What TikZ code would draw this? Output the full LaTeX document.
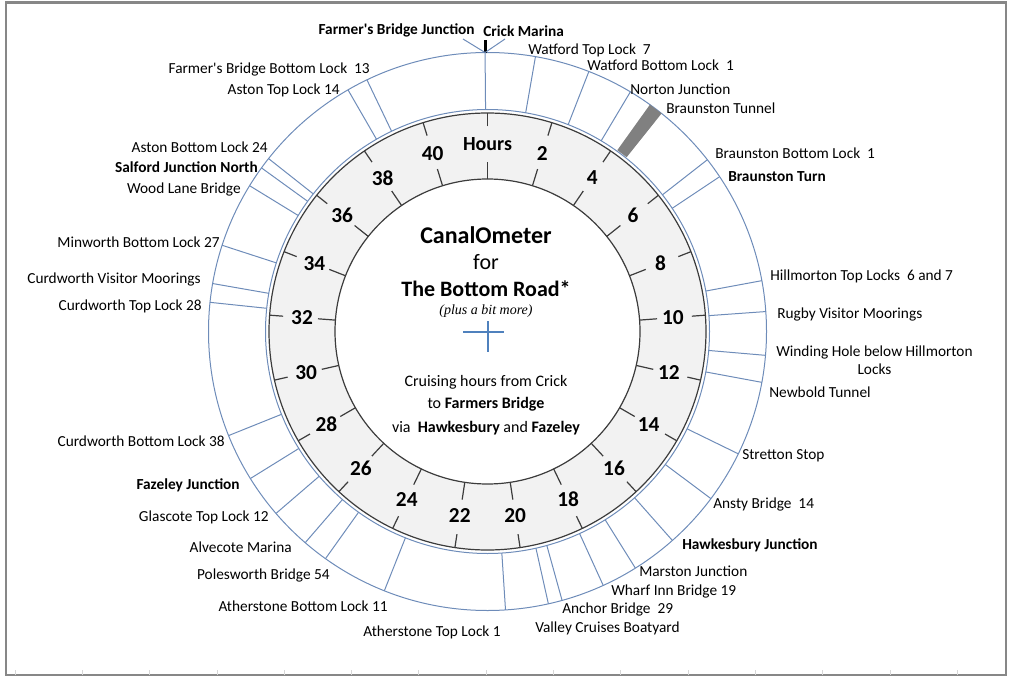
\documentclass[tikz,border=0pt]{standalone}
\usepackage{fontspec}
\setmainfont{Carlito}
\newfontfamily\notefont{Liberation Serif}
\definecolor{ringblue}{RGB}{110,140,185}
\definecolor{bandfill}{RGB}{242,242,242}
\definecolor{banddark}{RGB}{60,60,60}
\definecolor{framegray}{RGB}{135,135,135}
\definecolor{tickgray}{RGB}{215,215,215}
\definecolor{tunnelgray}{RGB}{128,128,128}
\definecolor{crossblue}{RGB}{79,129,189}
\tikzset{
  ringline/.style={draw=ringblue, line width=0.75pt},
  bandline/.style={draw=banddark, line width=0.9pt},
  stoplbl/.style={inner sep=0pt, font=\fontsize{11.5}{13.5}\selectfont},
  junclbl/.style={inner sep=0pt, font=\fontsize{11.5}{13.5}\selectfont\bfseries},
  hourlbl/.style={inner sep=0pt, font=\fontsize{16}{18}\selectfont\bfseries},
  middle/.style={inner sep=0pt, font=\fontsize{12}{14}\selectfont},
}
\begin{document}
\begin{tikzpicture}[x=0.75pt, y=0.75pt]
    \useasboundingbox (0,0) rectangle (1024,687);
    \draw[framegray, line width=1.6pt] (6,12) rectangle (1006,684.5);
    \foreach \i in {0,...,14}
        \draw[tickgray, line width=0.6pt] (15+\i*67.3,12) -- ++(0,5);

    \begin{scope}[shift={(487.5,355.5)}]
        \draw[ringline] (0,0) circle (279);
        \draw[ringline] (0,0) circle (222);
        \fill[bandfill, even odd rule] (0,0) circle (218.5) (0,0) circle (152.5);
        \draw[bandline] (0,0) circle (218.5);
        \draw[bandline] (0,0) circle (152.5);
        \foreach \h in {0,2,...,40} {
            \draw[bandline] (90-\h*360/42:152.5) -- (90-\h*360/42:170);
            \draw[bandline] (90-\h*360/42:205) -- (90-\h*360/42:218.5);
        }
        \node[hourlbl, font=\fontsize{15}{17}\selectfont\bfseries] (h0) at (90:187) {Hours};
        \foreach \h in {2,4,...,40}
            \node[hourlbl] (h\h) at (90-\h*360/42:186) {\h};
        % stops on the outer ring
        \foreach \a in {359.5,9.9,21.3,30.8,52,56.3,79.5,85.9,94.9,100.5,116,126.8,138.5,148,155.5,164.5,167.4,176.3,
                        201.7,215.5,220.8,229.3,238.2,248.1,276,279.9,288,301.5,305.9,308.3,330,334.4}
            \draw[ringline] (90-\a:222) -- (90-\a:279);
        \fill[tunnelgray] (90-35.6:223) -- (90-35.6:279) -- (90-38.6:279) -- (90-38.6:223) -- cycle;
        \coordinate (crick) at (90-359.5:279);
    \end{scope}

    \draw[black, line width=2.3pt] (crick) -- ++(0,12.5);
    \coordinate (vleft) at (463,648);
    \coordinate (vright) at (505,648);
    \draw[ringline] (vleft) -- (crick) -- (vright);

    \node[junclbl, anchor=east] (farmersjn) at (475,657) {Farmer\textquotesingle s Bridge Junction};
    \node[junclbl, anchor=west] (crickmarina) at (483,656) {Crick Marina};
    \node[stoplbl, anchor=west] (watfordtop) at (528,637) {Watford Top Lock~ 7};
    \node[stoplbl, anchor=west] (watfordbot) at (587,622) {Watford Bottom Lock~ 1};
    \node[stoplbl, anchor=west] (norton) at (630,598) {Norton Junction};
    \node[stoplbl, anchor=west] (tunnel) at (666,579) {Braunston Tunnel};
    \node[stoplbl, anchor=west] (braunbot) at (715,534) {Braunston Bottom Lock~ 1};
    \node[junclbl, anchor=west] (braunturn) at (728,510) {Braunston Turn};
    \node[stoplbl, anchor=west] (hillmorton) at (770,411) {Hillmorton Top Locks~ 6 and 7};
    \node[stoplbl, anchor=west] (rugby) at (777,373) {Rugby Visitor Moorings};
    \node[stoplbl, anchor=west, align=center] (winding) at (776,327) {Winding Hole below Hillmorton\\Locks};
    \node[stoplbl, anchor=west] (newbold) at (769,295) {Newbold Tunnel};
    \node[stoplbl, anchor=west] (stretton) at (742,231) {Stretton Stop};
    \node[stoplbl, anchor=west] (ansty) at (713,183) {Ansty Bridge~ 14};
    \node[junclbl, anchor=west] (hawkesbury) at (682,142) {Hawkesbury Junction};
    \node[stoplbl, anchor=west] (marston) at (639,116) {Marston Junction};
    \node[stoplbl, anchor=west] (wharfinn) at (611,96) {Wharf Inn Bridge 19};
    \node[stoplbl, anchor=west] (anchorbr) at (562,78) {Anchor Bridge~ 29};
    \node[stoplbl, anchor=west] (valley) at (535,59) {Valley Cruises Boatyard};
    \node[stoplbl, anchor=east] (athtop) at (501,55) {Atherstone Top Lock 1};

    \node[stoplbl, anchor=east] (athbot) at (388,81) {Atherstone Bottom Lock 11};
    \node[stoplbl, anchor=east] (polesworth) at (330,112) {Polesworth Bridge 54};
    \node[stoplbl, anchor=east] (alvecote) at (292,140) {Alvecote Marina};
    \node[stoplbl, anchor=east] (glascote) at (269,170) {Glascote Top Lock 12};
    \node[junclbl, anchor=east] (fazeley) at (240,202) {Fazeley Junction};
    \node[stoplbl, anchor=east] (curdbot) at (225,246) {Curdworth Bottom Lock 38};
    \node[stoplbl, anchor=east] (curdtop) at (202,381) {Curdworth Top Lock 28};
    \node[stoplbl, anchor=east] (curdvm) at (201,408) {Curdworth Visitor Moorings};
    \node[stoplbl, anchor=east] (minworth) at (220,445) {Minworth Bottom Lock 27};
    \node[stoplbl, anchor=east] (woodlane) at (241,498) {Wood Lane Bridge};
    \node[junclbl, anchor=east] (salford) at (258,520) {Salford Junction North};
    \node[stoplbl, anchor=east] (astonbot) at (268,540) {Aston Bottom Lock 24};
    \node[stoplbl, anchor=east] (astontop) at (340,597) {Aston Top Lock 14};
    \node[stoplbl, anchor=east] (farmersbot) at (370,618) {Farmer\textquotesingle s Bridge Bottom Lock~ 13};

    % centre of the dial
    \node[inner sep=0pt, font=\fontsize{18}{20}\selectfont\bfseries] (title) at (486,452) {CanalOmeter};
    \node[inner sep=0pt, font=\fontsize{16.5}{18}\selectfont] (for) at (486,425) {for};
    \node[inner sep=0pt, font=\fontsize{16.5}{18}\selectfont\bfseries] (road) at (486,398) {The Bottom Road*};
    \node[inner sep=0pt, font=\notefont\itshape\fontsize{10.5}{12}\selectfont] (note) at (486,376) {(plus a bit more)};
    \draw[crossblue, line width=2.2pt] (463,355) -- (504,355);
    \draw[crossblue, line width=2.2pt] (488,366) -- (488,335);
    \node[middle] (cruise) at (486,305) {Cruising hours from Crick};
    \node[middle] (towards) at (486,283) {to \textbf{Farmers Bridge}};
    \node[middle] (via) at (486,259) {via~ \textbf{Hawkesbury} and \textbf{Fazeley}};
\end{tikzpicture}
\end{document}
